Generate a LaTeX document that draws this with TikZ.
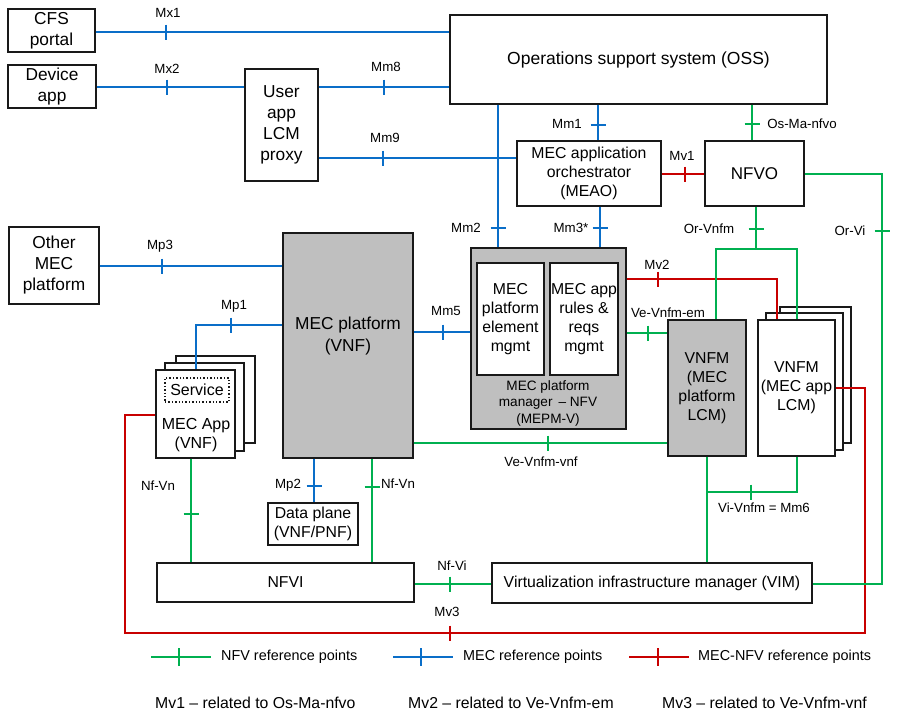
\documentclass[tikz,border=0pt]{standalone}
\usepackage{fontspec}
\setmainfont{Liberation Sans}
\usetikzlibrary{calc}
\definecolor{mblue}{RGB}{10,110,200}
\definecolor{mgreen}{RGB}{0,176,80}
\definecolor{mred}{RGB}{200,0,0}
\definecolor{mgray}{RGB}{191,191,191}
\tikzset{
 box/.style={draw=black!90, line width=1.4pt, fill=white, inner sep=0pt, align=center, font=\fontsize{15.8}{19}\selectfont},
 bigbox/.style={box, font=\fontsize{17.3}{21}\selectfont},
 graybox/.style={box, fill=mgray},
 txt/.style={inner sep=0pt, align=center, font=\fontsize{15.8}{19}\selectfont},
 lbl/.style={inner sep=0pt, font=\fontsize{13.3}{15}\selectfont},
 bl/.style={draw=mblue, line width=2.4pt},
 gr/.style={draw=mgreen, line width=2.4pt},
 rd/.style={draw=mred, line width=2.4pt},
}
\newcommand\rbox[7]{\node[#1, minimum width={(#5-#3)*1pt}, minimum height={(#6-#4)*1pt}] (#2) at ({(#3+#5)/2},{(#4+#6)/2}) {#7};}
\newcommand\tkh[3]{\draw[#1] (#2,{#3-7.5}) -- (#2,{#3+7.5});}
\newcommand\tkv[3]{\draw[#1] ({#2-7.5},#3) -- ({#2+7.5},#3);}
\begin{document}
\begin{tikzpicture}[x=1pt,y=-1pt]
\useasboundingbox (0,0) rectangle (897,728);
% boxes
\rbox{bigbox}{cfs}{8}{9}{95}{52}{CFS\\portal}
\rbox{bigbox}{dev}{8}{65}{96}{108}{Device\\app}
\rbox{bigbox}{user}{245}{69}{318}{181}{User\\app\\LCM\\proxy}
\rbox{box,font=\fontsize{17.5}{21}\selectfont}{oss}{450}{15}{827}{104}{Operations support system (OSS)}
\rbox{box}{meao}{517}{141}{661}{206}{MEC application\\orchestrator\\(MEAO)}
\rbox{box,font=\fontsize{17}{21}\selectfont}{nfvo}{705}{141}{804}{206}{NFVO}
\rbox{bigbox}{other}{9}{227}{99}{304}{Other\\MEC\\platform}
\rbox{graybox}{mecp}{283}{233}{413}{458}{}
\node[txt, font=\fontsize{17.3}{22}\selectfont] (mecpt) at (348,336) {MEC platform\\(VNF)};
\rbox{graybox}{mepm}{471}{248}{626}{429}{}
\rbox{box}{mepe}{477}{263}{544}{375}{MEC\\platform\\element\\mgmt}
\rbox{box}{mepr}{550}{263}{618}{375}{MEC app\\rules \&\\reqs\\mgmt}
\node[txt, font=\fontsize{13.6}{16.5}\selectfont] (mepmt) at (548,403) {MEC platform\\manager \,-- NFV\\(MEPM-V)};
\rbox{graybox}{vnfmp}{668}{320}{746}{456}{VNFM\\(MEC\\platform\\LCM)}
\rbox{box}{vnfmab}{780}{307}{851}{443}{}
\rbox{box}{vnfmam}{766}{313}{843}{450}{}
\rbox{box}{vnfma}{758}{320}{835}{456}{VNFM\\(MEC app\\LCM)}
\rbox{box}{mecappb}{176}{356}{255}{443}{}
\rbox{box}{mecappm}{165}{363}{244}{451}{}
\rbox{box}{mecapp}{156}{370}{235}{458}{}
\rbox{box,dotted,line width=1.1pt,font=\fontsize{16}{19}\selectfont}{serv}{165}{378}{229}{402}{Service}
\node[txt, font=\fontsize{16}{18.5}\selectfont] (mecappt) at (196,435) {MEC App\\(VNF)};
\rbox{box}{data}{268}{503}{358}{545}{Data plane\\(VNF/PNF)}
\rbox{box}{nfvi}{157}{563}{414}{602}{NFVI}
\rbox{box}{vim}{492}{563}{812}{603}{Virtualization infrastructure manager (VIM)}
% blue
\draw[bl] (cfs.east |- 0,32) -- (oss.west |- 0,32); \tkh{bl}{166}{32}
\draw[bl] (dev.east |- 0,87) -- (user.west |- 0,87); \tkh{bl}{167}{87}
\draw[bl] (user.east |- 0,87) -- (oss.west |- 0,87); \tkh{bl}{384}{87}
\draw[bl] (user.east |- 0,158) -- (meao.west |- 0,158); \tkh{bl}{383}{158}
\draw[bl] (oss.south -| 498,0) -- (mepm.north -| 498,0); \tkv{bl}{498}{228}
\draw[bl] (oss.south -| 598,0) -- (meao.north -| 598,0); \tkv{bl}{598}{125}
\draw[bl] (meao.south -| 600,0) -- (mepm.north -| 600,0); \tkv{bl}{600}{228}
\draw[bl] (other.east |- 0,266) -- (mecp.west |- 0,266); \tkh{bl}{162}{266}
\draw[bl] (mecp.west |- 0,325) -| (mecapp.north -| 196,0); \tkh{bl}{231}{325}
\draw[bl] (mecp.east |- 0,332) -- (mepm.west |- 0,332); \tkh{bl}{443}{332}
\draw[bl] (mecp.south -| 314,0) -- (data.north -| 314,0); \tkv{bl}{314}{486}
% red
\draw[rd] (meao.east |- 0,174) -- (nfvo.west |- 0,174); \tkh{rd}{685}{174}
\draw[rd] (mepm.east |- 0,279) -| (vnfma.north -| 777,0); \tkh{rd}{658}{279}
\draw[rd] (vnfma.east |- 0,388) -| (865,633) -| (125,415) -- (mecapp.west |- 0,415); \tkh{rd}{450}{633}
% green
\draw[gr] (oss.south -| 752,0) -- (nfvo.north -| 752,0); \tkv{gr}{752}{124}
\draw[gr] (nfvo.east |- 0,174) -| (882,584) -- (vim.east |- 0,584); \tkv{gr}{882}{231}
\draw[gr] (nfvo.south -| 756,0) -- (756,249); \tkv{gr}{756}{229}
\draw[gr] (vnfmp.north -| 716,0) |- (797,249) -- (vnfma.north -| 797,0);
\draw[gr] (mepm.east |- 0,333) -- (vnfmp.west |- 0,333); \tkh{gr}{648}{333}
\draw[gr] (mecp.east |- 0,443) -- (vnfmp.west |- 0,443); \tkh{gr}{548}{443}
\draw[gr] (mecapp.south -| 191,0) -- (nfvi.north -| 191,0); \tkv{gr}{191}{514}
\draw[gr] (mecp.south -| 372,0) -- (nfvi.north -| 372,0); \tkv{gr}{372}{487}
\draw[gr] (nfvi.east |- 0,584) -- (vim.west |- 0,584); \tkh{gr}{450}{584}
\draw[gr] (vnfmp.south -| 707,0) -- (vim.north -| 707,0);
\draw[gr] (707,492) -| (vnfma.south -| 797,0); \tkh{gr}{751}{492}
% labels
\node[lbl] (lmx1) at (168,13) {Mx1};
\node[lbl] (lmx2) at (167,69) {Mx2};
\node[lbl] (lmm8) at (386,67) {Mm8};
\node[lbl] (lmm9) at (385,138) {Mm9};
\node[lbl] (lmm1) at (567,124) {Mm1};
\node[lbl] (losma) at (802,124) {Os-Ma-nfvo};
\node[lbl] (lmv1) at (682,156) {Mv1};
\node[lbl] (lmm2) at (466,228) {Mm2};
\node[lbl] (lmm3) at (571,228) {Mm3*};
\node[lbl] (lorvnfm) at (709,229) {Or-Vnfm};
\node[lbl] (lorvi) at (850,231) {Or-Vi};
\node[lbl] (lmv2) at (657,265) {Mv2};
\node[lbl] (lveem) at (668,313) {Ve-Vnfm-em};
\node[lbl] (lmm5) at (446,311) {Mm5};
\node[lbl] (lmp3) at (160,246) {Mp3};
\node[lbl] (lmp1) at (234,306) {Mp1};
\node[lbl] (lvevnf) at (541,462) {Ve-Vnfm-vnf};
\node[lbl] (lvivnfm) at (764,508) {Vi-Vnfm = Mm6};
\node[lbl] (lnfvn1) at (158,486) {Nf-Vn};
\node[lbl] (lmp2) at (288,485) {Mp2};
\node[lbl] (lnfvn2) at (398,484) {Nf-Vn};
\node[lbl] (lnfvi) at (452,566) {Nf-Vi};
\node[lbl] (lmv3) at (447,612) {Mv3};
% legend
\tikzset{lgt/.style={inner sep=0pt, anchor=west, font=\fontsize{14.4}{17}\selectfont}}
\coordinate (lg1) at (151,657);
\coordinate (lg2) at (393,657);
\coordinate (lg3) at (629,657);
\draw[gr] (lg1) -- ++(60,0); \draw[gr] (179,648) -- (179,666);
\draw[bl] (lg2) -- ++(60,0); \draw[bl] (421,648) -- (421,666);
\draw[rd] (lg3) -- ++(60,0); \draw[rd] (658,648) -- (658,666);
\node[lgt] (lgt1) at (221,657) {NFV reference points};
\node[lgt] (lgt2) at (463,657) {MEC reference points};
\node[lgt] (lgt3) at (698,657) {MEC-NFV reference points};
\tikzset{note/.style={inner sep=0pt, anchor=west, font=\fontsize{15.8}{19}\selectfont}}
\node[note] (n1) at (155,703) {Mv1 – related to Os-Ma-nfvo};
\node[note] (n2) at (408,703) {Mv2 – related to Ve-Vnfm-em};
\node[note] (n3) at (662,703) {Mv3 – related to Ve-Vnfm-vnf};
\end{tikzpicture}
\end{document}
